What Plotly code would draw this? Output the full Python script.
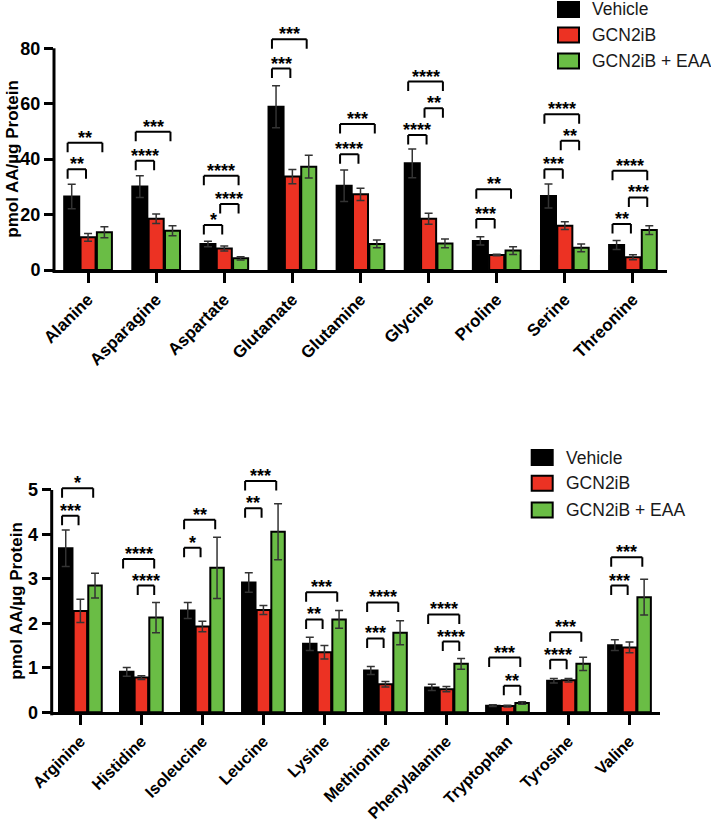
import plotly.graph_objects as go

# ---------------- data ----------------
series_names = ["Vehicle", "GCN2iB", "GCN2iB + EAA"]

categories_top = ["Alanine", "Asparagine", "Aspartate", "Glutamate", "Glutamine",
                  "Glycine", "Proline", "Serine", "Threonine"]
vehicle_top = [26.5, 30.1, 9.4, 58.9, 30.4, 38.5, 10.5, 26.7, 9.0]
vehicle_top_err = [4.4, 3.9, 1.0, 7.6, 5.7, 5.2, 1.5, 4.3, 1.6]
gcn2ib_top = [11.8, 18.5, 7.8, 33.7, 27.3, 18.5, 5.4, 16.0, 4.6]
gcn2ib_top_err = [1.4, 1.7, 0.9, 2.6, 2.2, 2.0, 0.3, 1.4, 0.9]
eaa_top = [13.6, 14.2, 4.2, 37.3, 9.4, 9.6, 7.0, 8.0, 14.4]
eaa_top_err = [2.0, 1.8, 0.6, 4.1, 1.4, 1.6, 1.4, 1.4, 1.6]
yticks_top = [0, 20, 40, 60, 80]

categories_bot = ["Arginine", "Histidine", "Isoleucine", "Leucine", "Lysine",
                  "Methionine", "Phenylalanine", "Tryptophan", "Tyrosine", "Valine"]
vehicle_bot = [3.69, 0.91, 2.29, 2.92, 1.54, 0.94, 0.56, 0.15, 0.71, 1.51]
vehicle_bot_err = [0.41, 0.10, 0.18, 0.22, 0.15, 0.09, 0.07, 0.02, 0.05, 0.12]
gcn2ib_bot = [2.28, 0.78, 1.93, 2.30, 1.35, 0.63, 0.52, 0.14, 0.72, 1.46]
gcn2ib_bot_err = [0.26, 0.04, 0.12, 0.10, 0.15, 0.06, 0.06, 0.02, 0.04, 0.12]
eaa_bot = [2.85, 2.13, 3.25, 4.06, 2.09, 1.79, 1.09, 0.21, 1.09, 2.59]
eaa_bot_err = [0.28, 0.34, 0.69, 0.63, 0.20, 0.27, 0.12, 0.03, 0.15, 0.40]
yticks_bot = [0, 1, 2, 3, 4, 5]

# significance comparisons: (category index, bar a, bar b, label, bracket height)
sig_top = [
    (0, 0, 1, "**", 36.4), (0, 0, 2, "**", 45.9),
    (1, 0, 1, "****", 39.4), (1, 0, 2, "***", 49.9),
    (2, 0, 1, "*", 16.2), (2, 1, 2, "****", 23.8), (2, 0, 2, "****", 34.0),
    (3, 0, 1, "***", 72.7), (3, 0, 2, "***", 83.3),
    (4, 0, 1, "****", 41.8), (4, 0, 2, "***", 52.7),
    (5, 0, 1, "****", 48.7), (5, 1, 2, "**", 58.4), (5, 0, 2, "****", 68.0),
    (6, 0, 1, "***", 18.4), (6, 0, 2, "**", 29.1),
    (7, 0, 1, "***", 36.4), (7, 1, 2, "**", 46.6), (7, 0, 2, "****", 56.2),
    (8, 0, 1, "**", 16.6), (8, 1, 2, "***", 26.2), (8, 0, 2, "****", 35.8),
]
sig_bot = [
    (0, 0, 1, "***", 4.42), (0, 0, 2, "*", 5.04),
    (1, 1, 2, "****", 2.85), (1, 0, 2, "****", 3.45),
    (2, 0, 1, "*", 3.70), (2, 0, 2, "**", 4.33),
    (3, 0, 1, "**", 4.59), (3, 0, 2, "***", 5.20),
    (4, 0, 1, "**", 2.09), (4, 0, 2, "***", 2.70),
    (5, 0, 1, "***", 1.66), (5, 0, 2, "****", 2.47),
    (6, 1, 2, "****", 1.59), (6, 0, 2, "****", 2.20),
    (7, 1, 2, "**", 0.60), (7, 0, 2, "***", 1.23),
    (8, 0, 1, "****", 1.18), (8, 0, 2, "***", 1.80),
    (9, 0, 1, "***", 2.85), (9, 0, 2, "***", 3.49),
]

# ---------------- style / layout ----------------
W, H = 711, 821
FONT = "Liberation Sans, Arial, Helvetica, sans-serif"
COLORS = ["#000000", "#EC3223", "#6ABD45"]
BARGAP = 0.28
BARGROUPGAP = 0.08
SLOT = (1 - BARGAP) / 3

panels = [
    dict(cats=categories_top, vals=[vehicle_top, gcn2ib_top, eaa_top],
         errs=[vehicle_top_err, gcn2ib_top_err, eaa_top_err], ticks=yticks_top,
         sig=sig_top, x0=54, x1=667, yzero=270, ytop=48.3, rmax=88,
         xr=[-0.5, 8.5], title_x=12.5, xfont=17,
         legend=dict(box_x=558, text_x=590, rows=[9.5, 35, 61]),
         xa="xaxis", ya="yaxis", xref="x", yref="y"),
    dict(cats=categories_bot, vals=[vehicle_bot, gcn2ib_bot, eaa_bot],
         errs=[vehicle_bot_err, gcn2ib_bot_err, eaa_bot_err], ticks=yticks_bot,
         sig=sig_bot, x0=51.7, x1=660, yzero=712.3, ytop=490, rmax=5.35,
         xr=[-0.47, 9.5], title_x=16.5, xfont=16.3,
         legend=dict(box_x=531.7, text_x=564, rows=[457.5, 483.3, 510]),
         xa="xaxis2", ya="yaxis2", xref="x2", yref="y2"),
]

fig = go.Figure()
shapes, annotations = [], []
layout_axes = {}

for p in panels:
    tmax = p["ticks"][-1]
    ppu = (p["yzero"] - p["ytop"]) / tmax
    top_px = p["yzero"] - p["rmax"] * ppu
    ydom = [1 - p["yzero"] / H, 1 - top_px / H]
    xdom = [p["x0"] / W, p["x1"] / W]

    for k in range(3):
        fig.add_trace(go.Bar(
            x=p["cats"], y=p["vals"][k], name=series_names[k],
            marker=dict(color=COLORS[k], line=dict(color="black", width=2)),
            error_y=dict(type="data", array=p["errs"][k], visible=True,
                         color="#333333", thickness=1.5, width=4),
            offsetgroup=str(k), showlegend=False, hoverinfo="skip",
            xaxis=p["xref"], yaxis=p["yref"],
        ))

    layout_axes[p["xa"]] = dict(
        domain=xdom, anchor=p["yref"], type="category", range=p["xr"],
        automargin=False,
        showline=True, linewidth=3, linecolor="black", ticks="outside",
        ticklen=10, tickwidth=3, tickcolor="black", tickangle=-45,
        tickfont=dict(family=FONT, size=p["xfont"], color="black", weight="bold"),
        showgrid=False, zeroline=False, fixedrange=True,
    )
    layout_axes[p["ya"]] = dict(
        domain=ydom, anchor=p["xref"], range=[0, p["rmax"]],
        automargin=False,
        tickvals=p["ticks"], ticks="outside", ticklen=9, tickwidth=3,
        tickcolor="black", showline=False, showgrid=False, zeroline=False,
        tickfont=dict(family=FONT, size=18, color="black", weight="bold"),
        fixedrange=True,
    )

    # y-axis line from 0 to the last tick (paper coords)
    def ypaper(v, ydom=ydom, rmax=p["rmax"]):
        return ydom[0] + v / rmax * (ydom[1] - ydom[0])
    shapes.append(dict(type="line", xref="paper", yref="paper",
                       x0=xdom[0], x1=xdom[0], y0=ydom[0] - 3 / H, y1=ypaper(tmax),
                       line=dict(color="black", width=3)))

    # y-axis title
    annotations.append(dict(text="pmol AA/µg Protein", xref="paper", yref=p["yref"],
                            x=p["title_x"] / W, y=tmax / 2, textangle=-90,
                            showarrow=False, xanchor="center", yanchor="middle",
                            font=dict(family=FONT, size=17, color="black", weight="bold")))

    # significance brackets
    drop = 9.5 / ppu
    for idx, a, b, lab, yv in p["sig"]:
        xl = idx + (a - 1) * SLOT - 0.06
        xr = idx + (b - 1) * SLOT - 0.03
        for (xa0, ya0, xa1, ya1) in [(xl, yv - drop, xl, yv), (xl, yv, xr, yv),
                                     (xr, yv, xr, yv - drop)]:
            shapes.append(dict(type="line", xref=p["xref"], yref=p["yref"],
                               x0=xa0, y0=ya0, x1=xa1, y1=ya1,
                               line=dict(color="black", width=2)))
        annotations.append(dict(text=lab, xref=p["xref"], yref=p["yref"],
                                x=(xl + xr) / 2, y=yv, yshift=5, showarrow=False,
                                xanchor="center", yanchor="middle",
                                font=dict(family=FONT, size=18, color="black",
                                          weight="bold")))

    # legend (custom)
    lg = p["legend"]
    for k in range(3):
        cy = lg["rows"][k]
        shapes.append(dict(type="rect", xref="paper", yref="paper",
                           x0=lg["box_x"] / W, x1=(lg["box_x"] + 21) / W,
                           y0=1 - (cy + 7.5) / H, y1=1 - (cy - 7.5) / H,
                           fillcolor=COLORS[k], line=dict(color="black", width=2)))
        annotations.append(dict(text=series_names[k], xref="paper", yref="paper",
                                x=lg["text_x"] / W, y=1 - cy / H, showarrow=False,
                                xanchor="left", yanchor="middle",
                                font=dict(family=FONT, size=17.5, color="#1a1a1a")))

fig.update_layout(
    width=W, height=H, margin=dict(l=0, r=0, t=0, b=0, pad=0, autoexpand=False),
    paper_bgcolor="white", plot_bgcolor="white",
    barmode="group", bargap=BARGAP, bargroupgap=BARGROUPGAP,
    font=dict(family=FONT, color="black"),
    shapes=shapes, annotations=annotations, showlegend=False,
    hovermode=False,
    **layout_axes,
)

fig.write_html("out.html",
               config={"displayModeBar": False, "staticPlot": True},
               post_script="document.body.style.margin='0px';"
                           "document.body.style.padding='0px';"
                           "document.documentElement.style.overflow='hidden';")
